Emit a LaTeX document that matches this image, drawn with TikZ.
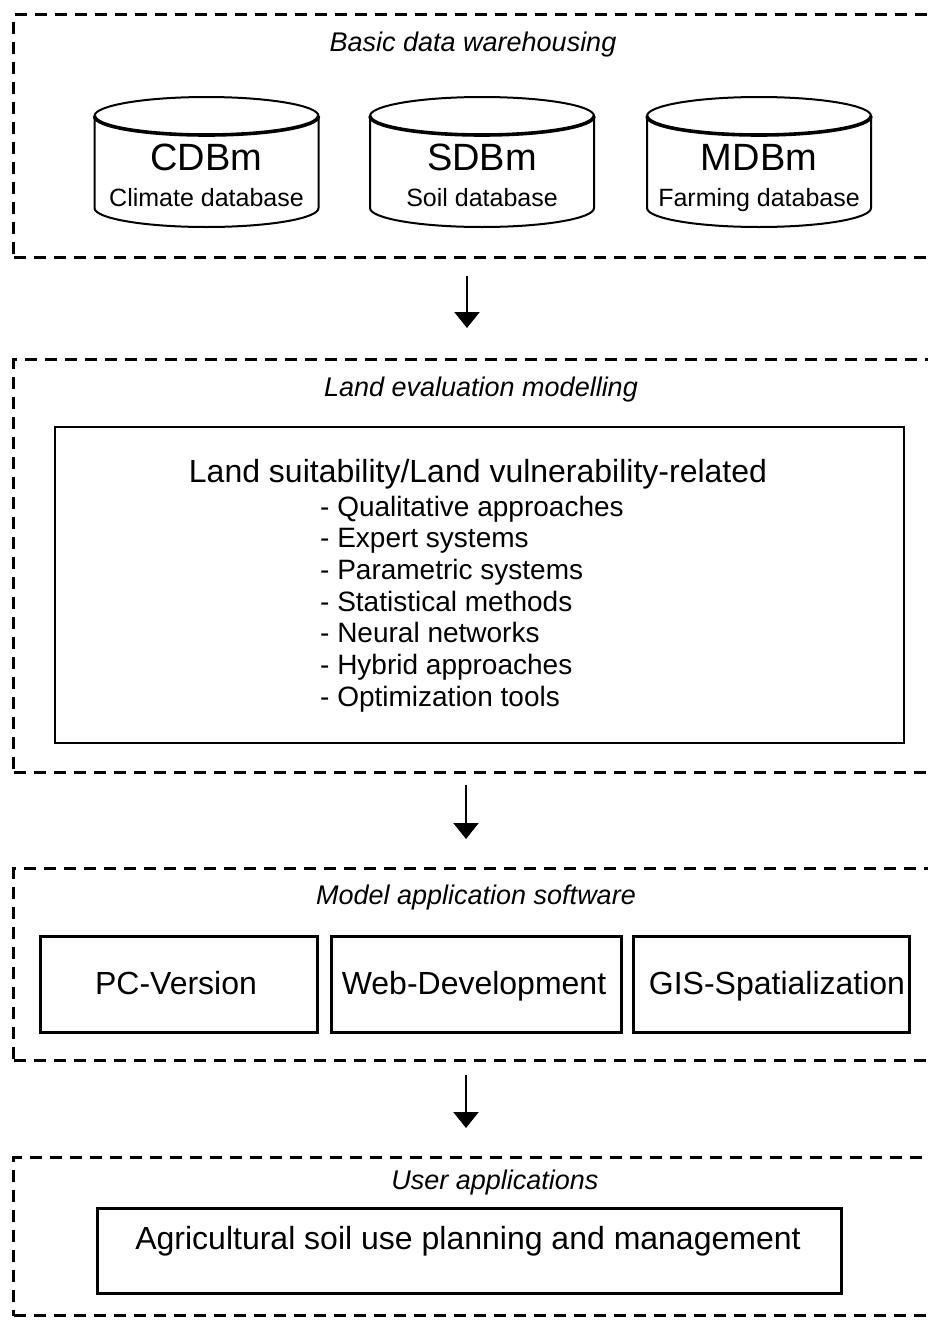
\documentclass[tikz,border=0pt]{standalone}
\usepackage{fontspec}
\setmainfont{Liberation Sans}
\usetikzlibrary{arrows.meta}

\tikzset{
  frame/.style={draw, line width=3pt, dash pattern=on 12pt off 8pt,
    anchor=north west, minimum width=945pt, inner sep=0pt},
  solidbox/.style={draw, line width=3pt, inner sep=0pt},
  cylline/.style={line width=2pt},
  cylfront/.style={line width=3.6pt},
  grouptitle/.style={font=\fontsize{27}{32}\selectfont\itshape, inner sep=0pt,
    text height=19.5pt, text depth=5.7pt},
  bigtext/.style={font=\fontsize{32}{38}\selectfont, inner sep=0pt,
    text height=23pt, text depth=6.8pt},
  listitem/.style={font=\fontsize{28}{32}\selectfont, inner sep=0pt, anchor=base west},
  dbcode/.style={font=\fontsize{38}{44}\selectfont, inner sep=0pt,
    text height=27.5pt, text depth=8pt},
  dbname/.style={font=\fontsize{25}{30}\selectfont, inner sep=0pt,
    text height=18pt, text depth=5.3pt},
  arr/.style={line width=2.2pt, -{Triangle[width=25pt,length=16pt]}},
}

% database cylinder: name, centre x, short code, full name
\newcommand{\dbcylinder}[4]{%
  \node[minimum width=224pt, minimum height=92pt, inner sep=0pt, outer sep=0pt]
    (#1) at (#2,162) {};
  \draw[cylline] (#1.north west) -- (#1.south west)
    arc[start angle=180, end angle=360, x radius=112pt, y radius=19pt]
    -- (#1.north east)
    arc[start angle=0, end angle=180, x radius=112pt, y radius=19pt];
  \draw[cylfront] (#1.north west)
    arc[start angle=180, end angle=360, x radius=112pt, y radius=19pt];
  \node[dbcode] (#1-code) at (#2,161) {#3};
  \node[dbname] (#1-name) at (#2,200) {#4};
}

\begin{document}
\begin{tikzpicture}[x=1pt, y=-1pt]
\useasboundingbox (0,0) rectangle (928,1320);

% group frames (open to the right)
\node[frame, minimum height=243pt] (g1) at (12,13) {};
\node[frame, minimum height=413pt] (g2) at (12,358) {};
\node[frame, minimum height=192pt] (g3) at (12,867) {};
\node[frame, minimum height=158pt] (g4) at (12,1156) {};

% group titles
\node[grouptitle] (t1) at (473,45) {Basic data warehousing};
\node[grouptitle] (t2) at (481,390) {Land evaluation modelling};
\node[grouptitle] (t3) at (476,898) {Model application software};
\node[grouptitle] (t4) at (495,1183) {User applications};

% databases
\dbcylinder{cdbm}{206.5}{CDBm}{Climate database}
\dbcylinder{sdbm}{482}{SDBm}{Soil database}
\dbcylinder{mdbm}{759}{MDBm}{Farming database}

% land evaluation models
\node[solidbox, line width=2.6pt, minimum width=849pt, minimum height=316pt]
  (models) at (479.5,585) {};
\node[bigtext] (modtitle) at (478,474) {Land suitability/Land vulnerability-related};
\foreach \txt [count=\i] in {Qualitative approaches, Expert systems,
    Parametric systems, Statistical methods, Neural networks,
    Hybrid approaches, Optimization tools}
  \node[listitem] (item\i) at (320,{516+31.7*(\i-1)}) {- \txt};

% software versions
\node[solidbox, bigtext, minimum width=277pt, minimum height=96pt]
  (pc) at (178.5,984) {};
\node[bigtext] (pctext) at (176,986) {PC-Version};
\node[solidbox, bigtext, minimum width=290pt, minimum height=96pt]
  (web) at (476,984) {};
\node[bigtext] (webtext) at (474,986) {Web-Development};
\node[solidbox, minimum width=276pt, minimum height=96pt]
  (gis) at (771,984) {};
\node[bigtext] (gistext) at (777,986) {GIS-Spatialization};

% user application
\node[solidbox, minimum width=744pt, minimum height=85pt] (user) at (469,1250.5) {};
\node[bigtext] (usertext) at (468,1241) {Agricultural soil use planning and management};

% flow arrows
\coordinate (ax) at (467,0);
\coordinate (bx) at (466,0);
\draw[arr, shorten <=17pt, shorten >=30pt] (g1.south -| ax) -- (g2.north -| ax);
\draw[arr, shorten <=11pt, shorten >=28pt] (g2.south -| bx) -- (g3.north -| bx);
\draw[arr, shorten <=13pt, shorten >=28pt] (g3.south -| bx) -- (g4.north -| bx);
\end{tikzpicture}
\end{document}
